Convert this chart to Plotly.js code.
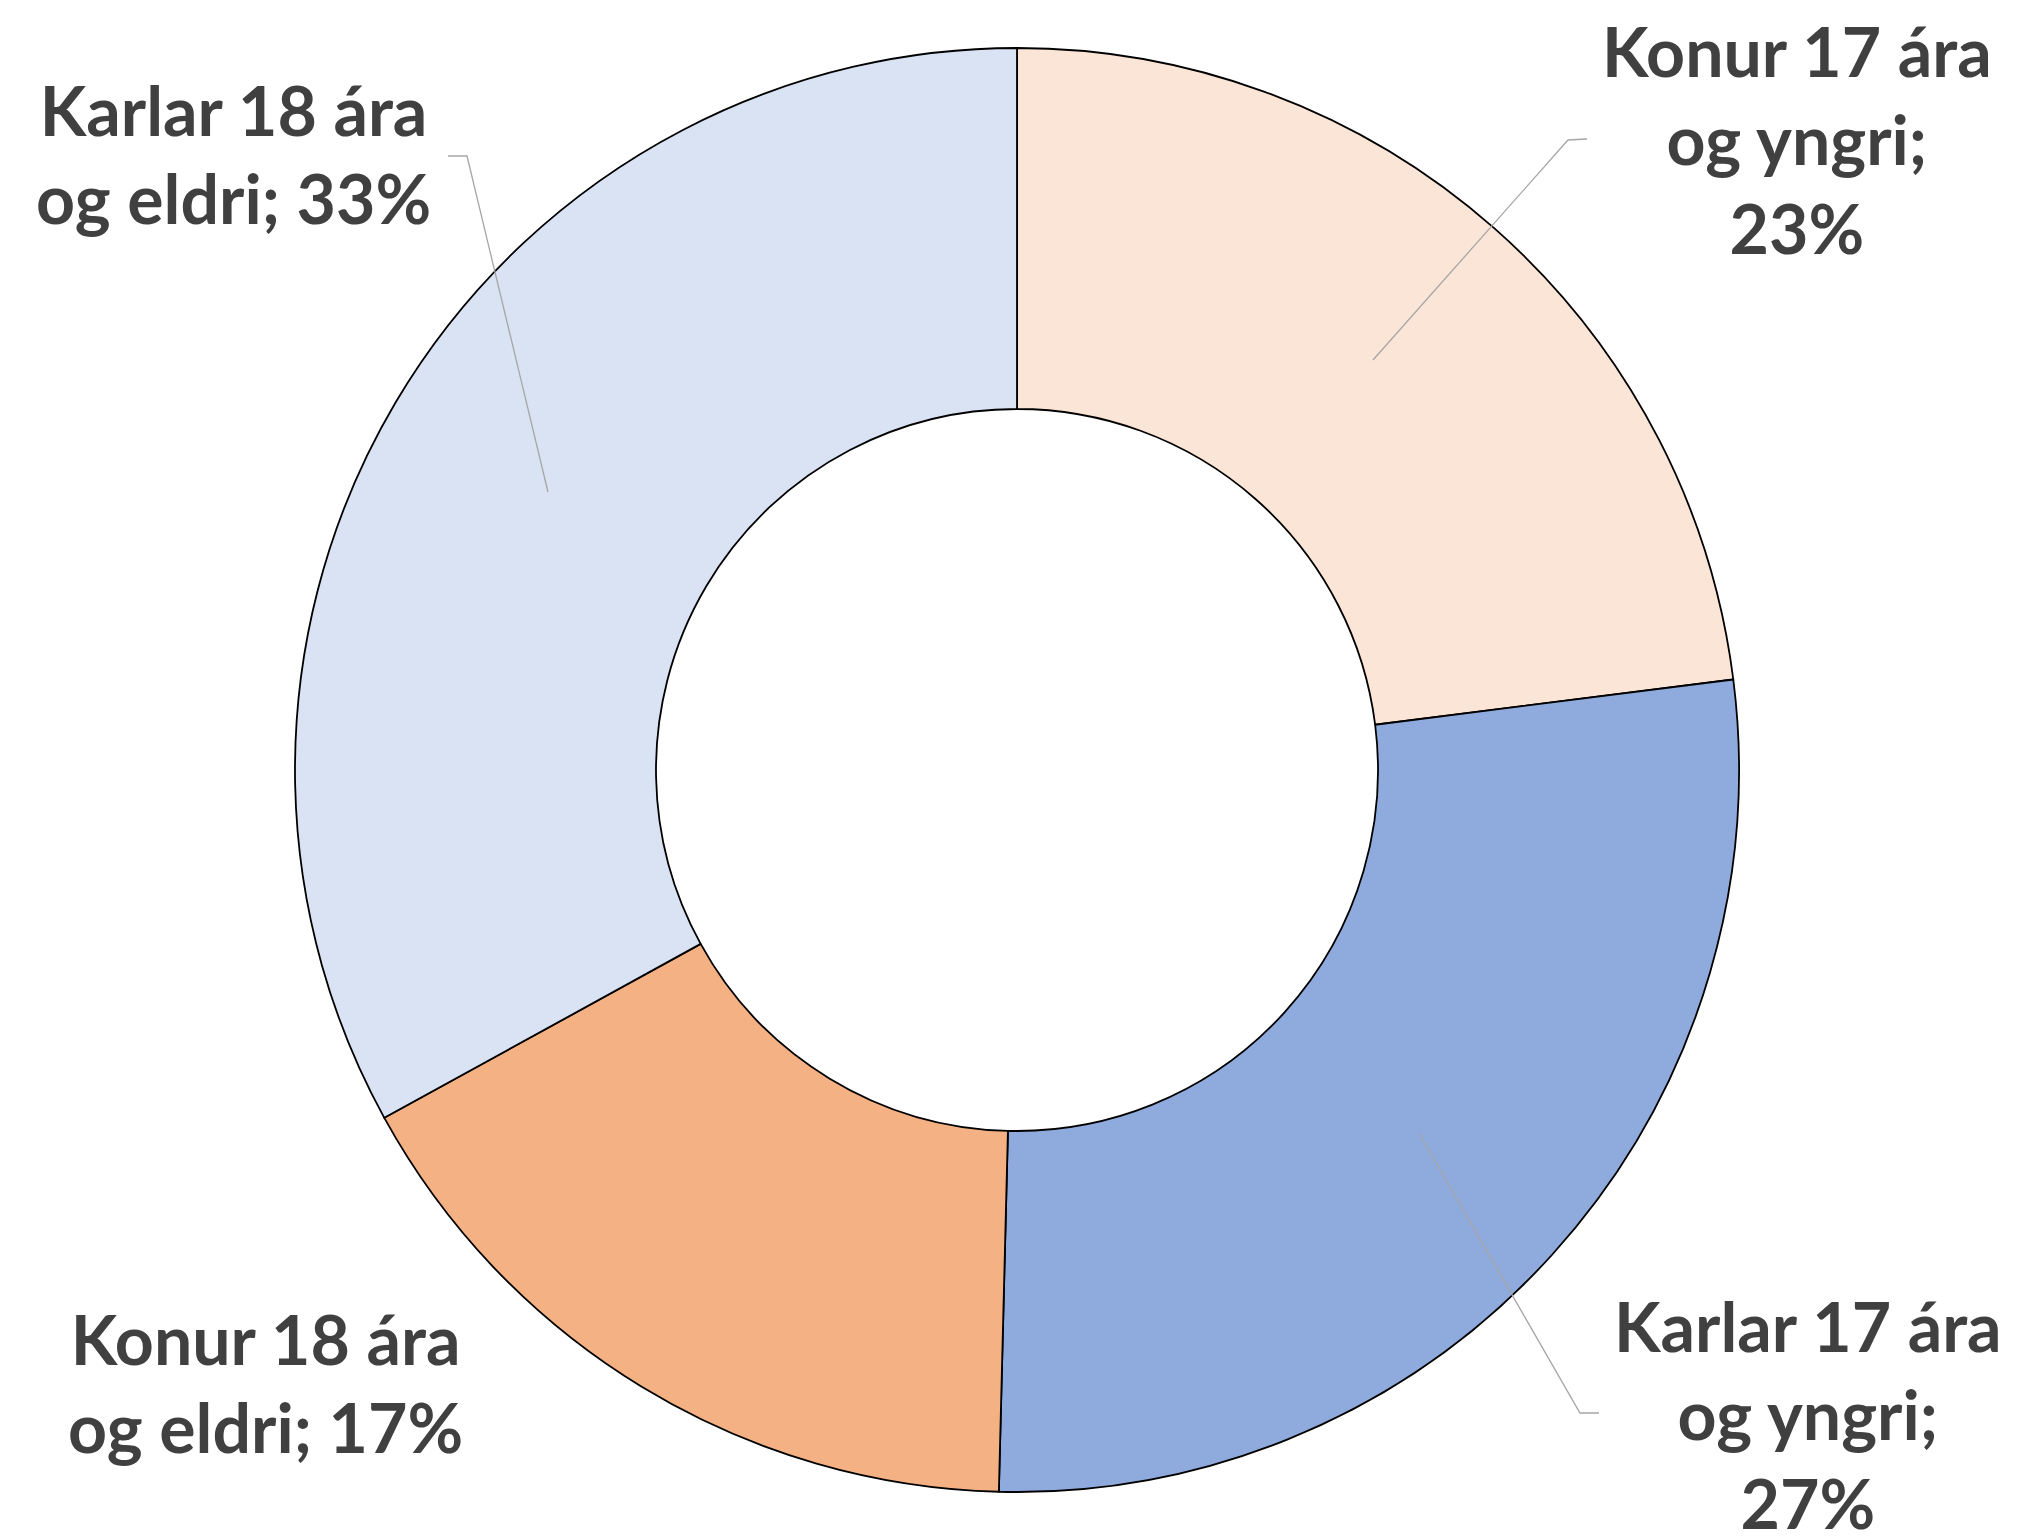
<!DOCTYPE html>
<html>
<head>
<meta charset="utf-8">
<script src="https://cdn.plot.ly/plotly-3.0.1.min.js"></script>
<style>
  html, body { margin: 0; padding: 0; background: #ffffff; }
  #chart { width: 2017px; height: 1537px; }
</style>
</head>
<body>
<div id="chart"></div>
<script>
// ---- data ----
var categories = [
  "Konur 17 ára og yngri",
  "Karlar 17 ára og yngri",
  "Konur 18 ára og eldri",
  "Karlar 18 ára og eldri"
];
var labelLines = [
  ["Konur 17 ára", "og yngri;"],
  ["Karlar 17 ára", "og yngri;"],
  ["Konur 18 ára", "og eldri;"],
  ["Karlar 18 ára", "og eldri;"]
];
var shares = [23.0, 27.4, 16.6, 33.0];
var sliceColors = ["#FBE5D6", "#8FAADC", "#F4B183", "#DAE3F3"];

// ---- layout geometry (pixels) ----
var W = 2017, H = 1537;
var M = { l: 295, r: 278, t: 48, b: 45 };
var PW = W - M.l - M.r, PH = H - M.t - M.b;
function px(x) { return (x - M.l) / PW; }
function py(y) { return (H - M.b - y) / PH; }

// label anchors (centre of text block) and how the percent joins the text
var labelPos = [
  { x: 1797, y: 139, pctNewLine: true },
  { x: 1808, y: 1414, pctNewLine: true },
  { x: 265, y: 1382, pctNewLine: false },
  { x: 233, y: 153, pctNewLine: false }
];
// leader lines: [start in slice, bend, end near label]
var leaders = [
  [[1373, 360], [1568, 140], [1587, 139]],
  [[1419, 1133], [1580, 1413], [1599, 1413]],
  null,
  [[548, 492], [467, 156], [448, 156]]
];

var total = shares.reduce(function (a, b) { return a + b; }, 0);

var annotations = categories.map(function (c, i) {
  var pct = Math.round(shares[i] / total * 100) + "%";
  var lines = labelLines[i].slice();
  if (labelPos[i].pctNewLine) { lines.push(pct); }
  else { lines[lines.length - 1] = lines[lines.length - 1] + " " + pct; }
  return {
    text: lines.join("<br>"),
    xref: "paper", yref: "paper",
    x: px(labelPos[i].x), y: py(labelPos[i].y),
    xanchor: "center", yanchor: "middle",
    align: "center",
    showarrow: false,
    font: { family: "Lato, 'Open Sans', sans-serif", size: 68, color: "#404040", weight: 700 }
  };
});

var shapes = [];
leaders.forEach(function (pts) {
  if (!pts) return;
  var d = pts.map(function (p, k) {
    return (k === 0 ? "M " : " L ") + px(p[0]) + "," + py(p[1]);
  }).join("");
  shapes.push({
    type: "path", xref: "paper", yref: "paper", path: d,
    line: { color: "#A6A6A6", width: 1.3 }
  });
});

var trace = {
  type: "pie",
  labels: categories,
  values: shares,
  hole: 0.5,
  sort: false,
  direction: "clockwise",
  rotation: 0,
  textinfo: "none",
  hoverinfo: "label+percent",
  marker: { colors: sliceColors, line: { color: "#000000", width: 1.8 } },
  showlegend: false
};

var layout = {
  width: W, height: H,
  margin: M,
  paper_bgcolor: "#ffffff",
  plot_bgcolor: "#ffffff",
  showlegend: false,
  annotations: annotations,
  shapes: shapes
};

Plotly.newPlot("chart", [trace], layout, { displayModeBar: false, staticPlot: true });
</script>
</body>
</html>
